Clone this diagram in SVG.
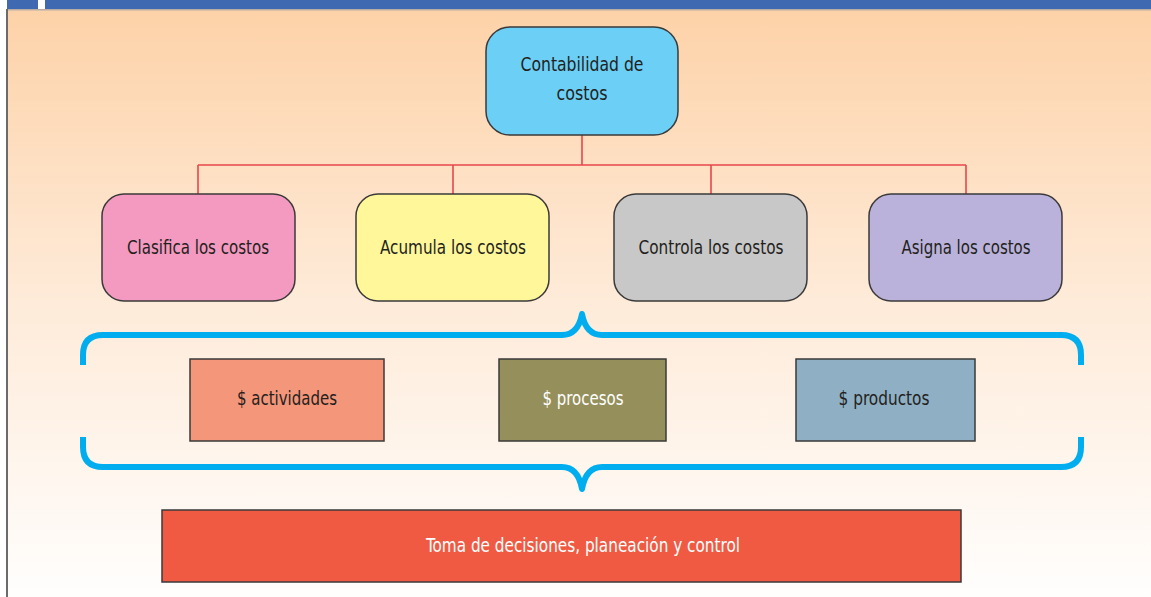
<svg xmlns="http://www.w3.org/2000/svg" width="1151" height="597" viewBox="0 0 1151 597">
<defs>
<linearGradient id="bg" x1="0" y1="0" x2="0" y2="1">
<stop offset="0" stop-color="#FDD2A8"/>
<stop offset="0.5" stop-color="#FEEBD9"/>
<stop offset="1" stop-color="#FFFEFD"/>
</linearGradient>
<style>
.t{font-family:"Liberation Sans Narrow","DejaVu Sans Condensed","Liberation Sans",sans-serif;font-size:19px;text-anchor:middle;fill:#231F20}
.w{fill:#FFFFFF}
.rb{stroke:#3a3a3a;stroke-width:1.5}
.conn{stroke:#E8474C;stroke-width:1.6;fill:none}
.brace{stroke:#00AEEF;stroke-width:6;fill:none;stroke-linejoin:round}
</style>
</defs>
<rect x="0" y="0" width="1151" height="597" fill="#FFFFFF"/>
<rect x="7" y="9" width="1144" height="588" fill="url(#bg)"/>
<rect x="7" y="0" width="1144" height="9" fill="#3F69B0"/>
<rect x="38" y="0" width="7" height="9" fill="#FFFFFF"/>
<rect x="7" y="9" width="1144" height="1.5" fill="#B8AEA5"/>
<rect x="6" y="9" width="2" height="588" fill="#6B6B6B"/>

<g id="connectors">
<path class="conn" d="M582 135 V165 M198 165 H966 M198 165 V194 M453 165 V194 M711 165 V194 M966 165 V194"/>
<path class="brace" d="M83 365 V355 Q83 335 103 335 H562 Q578 335 582 314 Q586 335 602 335 H1061 Q1081 335 1081 355 V365"/>
<path class="brace" d="M83 437 V447 Q83 467 103 467 H562 Q578 467 582 489 Q586 467 602 467 H1061 Q1081 467 1081 447 V437"/>
</g>

<g id="n-contabilidad">
<rect class="rb" x="486" y="27" width="192" height="108" rx="24" fill="#6CCFF6"/>
<text class="t" x="582" y="71" textLength="123" lengthAdjust="spacingAndGlyphs">Contabilidad de</text>
<text class="t" x="582" y="100" textLength="51" lengthAdjust="spacingAndGlyphs">costos</text>
</g>
<g id="n-clasifica">
<rect class="rb" x="102" y="194" width="193" height="107" rx="22" fill="#F49AC1"/>
<text class="t" x="198" y="254" textLength="142" lengthAdjust="spacingAndGlyphs">Clasifica los costos</text>
</g>
<g id="n-acumula">
<rect class="rb" x="356" y="194" width="193" height="107" rx="22" fill="#FFF799"/>
<text class="t" x="453" y="254" textLength="146" lengthAdjust="spacingAndGlyphs">Acumula los costos</text>
</g>
<g id="n-controla">
<rect class="rb" x="614" y="194" width="193" height="107" rx="22" fill="#C8C8C8"/>
<text class="t" x="711" y="254" textLength="145" lengthAdjust="spacingAndGlyphs">Controla los costos</text>
</g>
<g id="n-asigna">
<rect class="rb" x="869" y="194" width="193" height="107" rx="22" fill="#BAB2DA"/>
<text class="t" x="966" y="254" textLength="129" lengthAdjust="spacingAndGlyphs">Asigna los costos</text>
</g>
<g id="n-actividades">
<rect class="rb" x="190" y="359" width="194" height="82" fill="#F4967A"/>
<text class="t" x="287" y="405" textLength="100" lengthAdjust="spacingAndGlyphs">$ actividades</text>
</g>
<g id="n-procesos">
<rect class="rb" x="499" y="359" width="167" height="82" fill="#958F5B"/>
<text class="t w" x="583" y="405" textLength="81" lengthAdjust="spacingAndGlyphs">$ procesos</text>
</g>
<g id="n-productos">
<rect class="rb" x="796" y="359" width="179" height="82" fill="#8FB0C4"/>
<text class="t" x="884" y="405" textLength="91" lengthAdjust="spacingAndGlyphs">$ productos</text>
</g>
<g id="n-toma">
<rect class="rb" x="162" y="510" width="799" height="72" fill="#F15A42"/>
<text class="t w" x="583" y="552" textLength="314" lengthAdjust="spacingAndGlyphs">Toma de decisiones, planeación y control</text>
</g>
</svg>
